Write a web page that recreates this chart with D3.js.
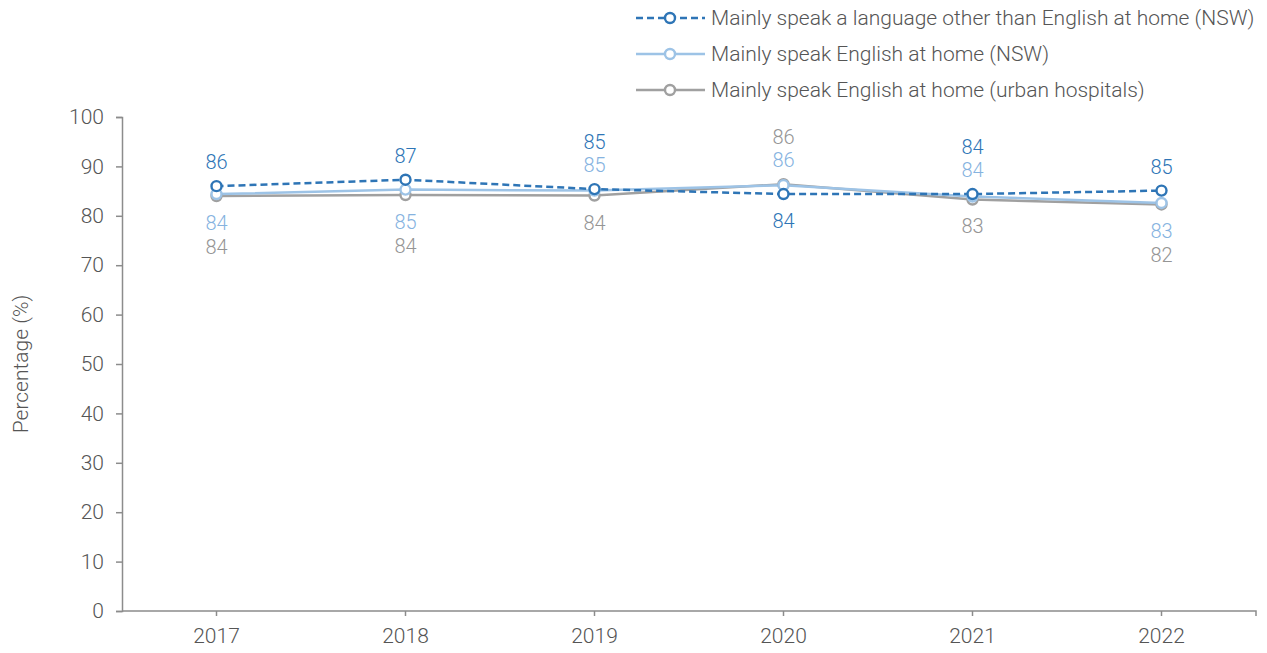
<!DOCTYPE html>
<html>
<head>
<meta charset="utf-8">
<script src="https://cdn.jsdelivr.net/npm/d3@7"></script>
<style>
  body { margin: 0; background: #fff; }
  text { font-family: Roboto, "Liberation Sans", sans-serif; font-weight: 300; }
</style>
</head>
<body>
<div id="chart"></div>
<script>
const years = ["2017", "2018", "2019", "2020", "2021", "2022"]
const yTicks = [0, 10, 20, 30, 40, 50, 60, 70, 80, 90, 100]

const otherLangNSW = [86.0, 87.3, 85.4, 84.4, 84.4, 85.1]
const englishNSW = [84.4, 85.3, 85.1, 86.2, 83.9, 82.6]
const englishUrban = [84.0, 84.2, 84.1, 86.4, 83.3, 82.3]

// label slots: negative = above the points, positive = below
const otherLangSlots = [-1, -1, -2, 1, -2, -1]
const englishNSWSlots = [1, 1, -1, -1, -1, 1]
const englishUrbanSlots = [2, 2, 1, -2, 1, 2]

const series = [
  { name: "Mainly speak a language other than English at home (NSW)", values: otherLangNSW, slots: otherLangSlots, color: "#2E75B6", label: "#2E75B6", dash: "7,4" },
  { name: "Mainly speak English at home (NSW)", values: englishNSW, slots: englishNSWSlots, color: "#9DC3E6", label: "#86B3DF", dash: null },
  { name: "Mainly speak English at home (urban hospitals)", values: englishUrban, slots: englishUrbanSlots, color: "#A0A0A0", label: "#959595", dash: null }
]

const width = 1267, height = 653
const margin = { left: 122, right: 11, top: 117, bottom: 42 }

const svg = d3.select("#chart").append("svg")
  .attr("width", width)
  .attr("height", height)

const x = d3.scaleBand().domain(years).range([margin.left, width - margin.right])
const y = d3.scaleLinear().domain([0, 100]).range([height - margin.bottom, margin.top])
const cx = d => x(d) + x.bandwidth() / 2

const axisColor = "#8C8C8C"
const textColor = "#555555"

// y axis
const yAxis = svg.append("g")
  .attr("transform", `translate(${margin.left},0)`)
  .call(d3.axisLeft(y).tickValues(yTicks).tickSize(6).tickPadding(12))
yAxis.select(".domain").attr("stroke", axisColor).attr("stroke-width", 1.5)
yAxis.selectAll(".tick line").attr("stroke", axisColor).attr("stroke-width", 1.5)
yAxis.selectAll(".tick text").attr("fill", textColor).style("font-size", "21px")

// x axis
const xAxis = svg.append("g")
  .attr("transform", `translate(0,${y(0)})`)
  .call(d3.axisBottom(x).tickSize(5).tickSizeOuter(5).tickPadding(12))
xAxis.select(".domain").attr("stroke", axisColor).attr("stroke-width", 1.5)
  .attr("d", `M${margin.left},0H${width - margin.right}V5`)
xAxis.selectAll(".tick line").attr("stroke", axisColor).attr("stroke-width", 1.5)
xAxis.selectAll(".tick text").attr("fill", textColor).style("font-size", "21px")

svg.append("text")
  .attr("transform", `translate(21,${(y(0) + y(100)) / 2}) rotate(-90)`)
  .attr("text-anchor", "middle")
  .attr("dy", "0.35em")
  .attr("fill", textColor)
  .style("font-size", "21px")
  .text("Percentage (%)")

const line = d3.line().x((d, i) => cx(years[i])).y(d => y(d))

// draw lines: urban first so the NSW lines sit on top
const drawOrder = [series[2], series[1], series[0]]
drawOrder.forEach(s => {
  svg.append("path")
    .datum(s.values)
    .attr("fill", "none")
    .attr("stroke", s.color)
    .attr("stroke-width", 2.5)
    .attr("stroke-dasharray", s.dash)
    .attr("d", line)
})
drawOrder.forEach(s => {
  svg.append("g").selectAll("circle")
    .data(s.values)
    .join("circle")
    .attr("cx", (d, i) => cx(years[i]))
    .attr("cy", d => y(d))
    .attr("r", 5)
    .attr("fill", "#fff")
    .attr("stroke", s.color)
    .attr("stroke-width", 2.4)
})

// data labels, stacked above / below the points for each year
years.forEach((yr, i) => {
  const ys = series.map(s => y(s.values[i]))
  const top = d3.min(ys), bottom = d3.max(ys)
  series.forEach(s => {
    const slot = s.slots[i]
    const ly = slot < 0 ? top - 24 - (-slot - 1) * 23 : bottom + 27 + (slot - 1) * 24
    svg.append("text")
      .attr("x", cx(yr))
      .attr("y", ly)
      .attr("dy", "0.35em")
      .attr("text-anchor", "middle")
      .attr("fill", s.label)
      .style("font-size", "20px")
      .text(Math.round(s.values[i]))
  })
})

// legend
const legend = svg.append("g").attr("transform", "translate(636,18)")
series.forEach((s, i) => {
  const g = legend.append("g").attr("transform", `translate(0,${i * 36})`)
  g.append("line")
    .attr("x1", 0).attr("x2", 69)
    .attr("stroke", s.color)
    .attr("stroke-width", 2.5)
    .attr("stroke-dasharray", s.dash)
  g.append("circle")
    .attr("cx", 34).attr("r", 5)
    .attr("fill", "#fff")
    .attr("stroke", s.color)
    .attr("stroke-width", 2.4)
  g.append("text")
    .attr("x", 75)
    .attr("dy", "0.35em")
    .attr("fill", textColor)
    .style("font-size", "21px")
    .text(s.name)
})
</script>
</body>
</html>
